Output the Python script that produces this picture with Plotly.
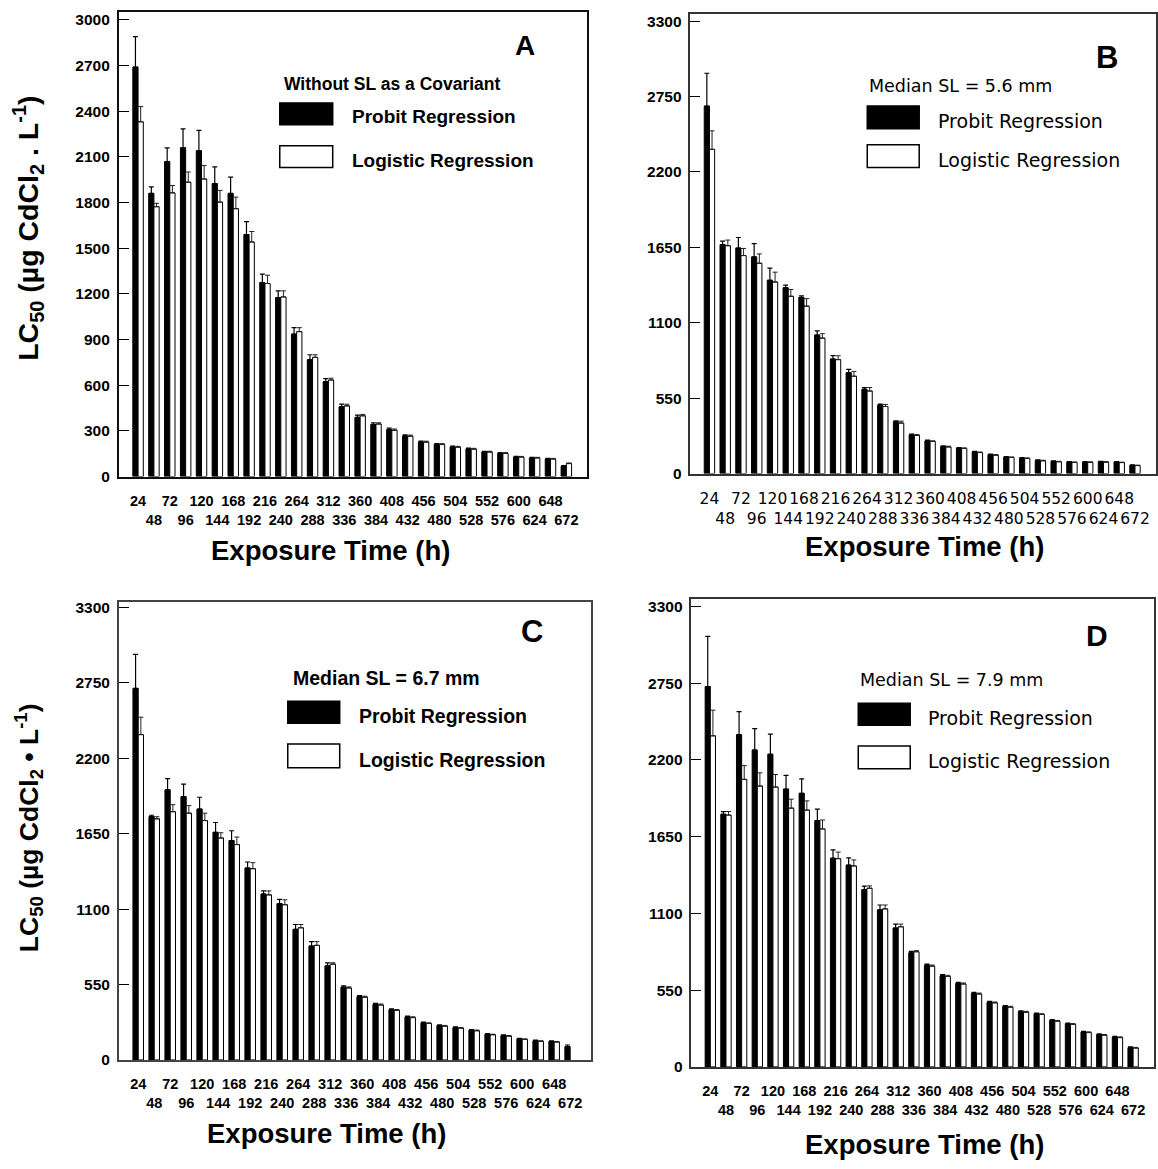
import plotly.graph_objects as go

W, H = 1158, 1169

# Exposure times (h)
hours = list(range(24, 673, 24))
# alternate labels between two rows
hour_labels = [str(h) if i % 2 == 0 else "<br>" + str(h) for i, h in enumerate(hours)]

# ---- Panel A: without SL as a covariant ----
a_probit = [2690, 1860, 2070, 2160, 2140, 1925, 1860, 1590, 1275, 1175, 935, 768, 623, 458,
            388, 341, 308, 265, 226, 210, 193, 182, 161, 152, 128, 122, 115, 67]
a_probit_err = [200, 43, 90, 125, 135, 110, 108, 85, 55, 45, 43, 32, 20, 17,
                15, 12, 10, 8, 7, 6, 6, 5, 5, 5, 4, 4, 4, 4]
a_logit = [2331, 1773, 1864, 1934, 1955, 1803, 1760, 1541, 1268, 1180, 952, 783, 634, 464,
           399, 345, 304, 265, 226, 210, 193, 180, 161, 152, 128, 122, 115, 85]
a_logit_err = [100, 22, 48, 67, 89, 77, 76, 69, 55, 40, 26, 17, 12, 11,
               9, 8, 8, 7, 6, 6, 5, 5, 5, 5, 4, 4, 4, 4]

# ---- Panel B: median SL = 5.6 mm ----
b_probit = [2680, 1670, 1645, 1580, 1410, 1355, 1285, 1010, 835, 735, 614, 498, 378, 282,
            238, 197, 186, 157, 137, 120, 113, 96, 89, 84, 84, 86, 84, 60]
b_probit_err = [240, 25, 77, 97, 89, 20, 12, 30, 25, 25, 12, 8, 6, 5,
                5, 5, 4, 4, 4, 4, 4, 4, 3, 3, 3, 3, 3, 3]
b_logit = [2365, 1662, 1590, 1534, 1397, 1293, 1221, 988, 831, 710, 602, 489, 368, 278,
           234, 194, 183, 153, 134, 117, 110, 93, 86, 81, 82, 83, 80, 58]
b_logit_err = [135, 41, 52, 68, 72, 50, 55, 32, 28, 35, 25, 15, 14, 6,
               5, 5, 4, 4, 4, 4, 4, 4, 3, 3, 3, 3, 3, 3]

# ---- Panel C: median SL = 6.7 mm ----
c_probit = [2710, 1775, 1970, 1920, 1830, 1660, 1600, 1400, 1210, 1140, 952, 831, 686, 530,
            462, 405, 366, 313, 270, 251, 236, 217, 188, 178, 154, 140, 135, 97]
c_probit_err = [248, 10, 82, 92, 86, 72, 72, 44, 24, 31, 36, 32, 22, 10,
                8, 8, 7, 7, 6, 6, 5, 5, 5, 5, 4, 4, 4, 12]
c_logit = [2373, 1759, 1811, 1800, 1746, 1619, 1571, 1395, 1204, 1132, 964, 836, 699, 525,
           458, 401, 362, 309, 266, 247, 232, 213, 184, 174, 150, 136, 131, None]
c_logit_err = [127, 15, 51, 55, 54, 38, 55, 44, 29, 36, 24, 27, 10, 8,
               7, 7, 6, 6, 5, 5, 5, 5, 4, 4, 4, 4, 4, 0]

# ---- Panel D: median SL = 7.9 mm ----
d_probit = [2725, 1810, 2380, 2270, 2240, 1990, 1960, 1764, 1495, 1445, 1270, 1125, 995, 817,
            727, 652, 598, 527, 463, 432, 396, 380, 332, 309, 250, 231, 214, 138]
d_probit_err = [360, 19, 165, 154, 144, 99, 104, 83, 60, 52, 25, 35, 28, 10,
                9, 9, 8, 8, 7, 7, 6, 6, 6, 5, 5, 5, 5, 5]
d_logit = [2372, 1804, 2060, 2012, 2005, 1854, 1840, 1705, 1492, 1440, 1280, 1132, 1004, 825,
           722, 648, 594, 522, 459, 428, 392, 376, 328, 305, 246, 227, 210, 135]
d_logit_err = [184, 26, 99, 95, 90, 64, 66, 64, 47, 43, 17, 28, 19, 8,
               8, 8, 7, 7, 6, 6, 6, 5, 5, 5, 5, 5, 5, 5]

a_ticks = list(range(0, 3001, 300))
bcd_ticks = list(range(0, 3301, 550))


def px(x):
    return x / W


def py(y):
    return 1 - y / H


panels = [
    # probit / logistic series, plot box (l, t, r, b) in px, y range top, y ticks
    dict(p=a_probit, pe=a_probit_err, l=a_logit, le=a_logit_err,
         box=(119, 9, 588, 478), ytop=3053, yt=a_ticks, line=2.0, lc="#111"),
    dict(p=b_probit, pe=b_probit_err, l=b_logit, le=b_logit_err,
         box=(691, 11, 1157, 475), ytop=3353, yt=bcd_ticks, line=1.5, lc="#333"),
    dict(p=c_probit, pe=c_probit_err, l=c_logit, le=c_logit_err,
         box=(119, 605, 592, 1067), ytop=3338, yt=bcd_ticks, line=1.6, lc="#444"),
    dict(p=d_probit, pe=d_probit_err, l=d_logit, le=d_logit_err,
         box=(692, 602, 1155, 1074), ytop=3350, yt=bcd_ticks, line=1.5, lc="#333"),
]

fig = go.Figure()
layout = dict(
    width=W, height=H,
    margin=dict(l=0, r=0, t=0, b=0),
    paper_bgcolor="white", plot_bgcolor="white",
    barmode="group", bargap=0.34, bargroupgap=0.0,
    showlegend=False,
    font=dict(family="Liberation Sans, Arial, sans-serif", color="black"),
)

tick_bold = dict(family="Liberation Sans, Arial, sans-serif", size=14.5, color="black", weight="bold")
tick_wide = dict(family="DejaVu Sans, sans-serif", size=15.5, color="black")

for i, pn in enumerate(panels, start=1):
    sfx = "" if i == 1 else str(i)
    xa, ya = "x" + sfx, "y" + sfx
    zeros = [0] * len(hours)
    fig.add_trace(go.Bar(
        x=hours, y=pn["p"], xaxis=xa, yaxis=ya, name="Probit Regression",
        marker=dict(color="black", line=dict(color="black", width=1)),
        error_y=dict(type="data", symmetric=False, array=pn["pe"], arrayminus=zeros,
                     color="black", thickness=1.2, width=2.5),
    ))
    fig.add_trace(go.Bar(
        x=hours, y=pn["l"], xaxis=xa, yaxis=ya, name="Logistic Regression",
        marker=dict(color="white", line=dict(color="black", width=1)),
        error_y=dict(type="data", symmetric=False, array=pn["le"], arrayminus=zeros,
                     color="#222", thickness=1, width=2.5),
    ))
    l, t, r, b = pn["box"]
    xfont = tick_wide if i == 2 else tick_bold
    layout["xaxis" + sfx] = dict(
        domain=[px(l), px(r)], anchor=ya, range=[-5, 704],
        tickvals=hours, ticktext=hour_labels, tickangle=0, ticks="",
        showline=True, mirror=True, linecolor=pn["lc"], linewidth=pn["line"],
        showgrid=False, zeroline=False, tickfont=xfont, ticklabelstandoff=10,
    )
    yfont = dict(family="Liberation Sans, Arial, sans-serif", size=15.5, color="black",
                 weight="bold")
    layout["yaxis" + sfx] = dict(
        domain=[py(b), py(t)], anchor=xa, range=[0, pn["ytop"]],
        tickvals=pn["yt"], ticks="inside", ticklen=10, tickwidth=1.2, tickcolor="black",
        showline=True, mirror=True, linecolor=pn["lc"], linewidth=pn["line"],
        showgrid=False, zeroline=False, tickfont=yfont, ticklabelstandoff=4,
    )

fig.update_layout(**layout)

ann = []
shapes = []


def text(x, y, s, size, bold=False, family="Liberation Sans, Arial, sans-serif",
         xanchor="left", angle=0):
    ann.append(dict(
        x=px(x), y=py(y), xref="paper", yref="paper", text=s, showarrow=False,
        xanchor=xanchor, yanchor="middle", textangle=angle,
        font=dict(family=family, size=size, color="black",
                  weight="bold" if bold else "normal"),
    ))


def swatch(x0, y0, x1, y1, fill):
    shapes.append(dict(type="rect", xref="paper", yref="paper",
                       x0=px(x0), x1=px(x1), y0=py(y1), y1=py(y0),
                       fillcolor=fill, line=dict(color="black", width=1.5)))


wide = "DejaVu Sans, sans-serif"

# Panel A legend and label
text(282, 82, "Without SL as a Covariant", 17.5, bold=True)
swatch(280, 101, 333, 123, "black")
swatch(280, 144, 333, 166, "white")
text(350, 115, "Probit Regression", 19, bold=True)
text(350, 159, "Logistic Regression", 19, bold=True)
text(525, 43, "A", 28, bold=True, xanchor="center")

# Panel B
text(868, 84, "Median SL = 5.6 mm", 17.5, family=wide)
swatch(868, 104, 920, 127, "black")
swatch(868, 143, 920, 166, "white")
text(937, 119, "Probit Regression", 19, family=wide)
text(937, 158, "Logistic Regression", 19, family=wide)
text(1108, 55, "B", 31, bold=True, xanchor="center")

# Panel C
text(291, 681, "Median SL = 6.7 mm", 19.5, bold=True)
swatch(288, 705, 340, 727, "black")
swatch(288, 748, 340, 772, "white")
text(357, 720, "Probit Regression", 19.5, bold=True)
text(357, 764, "Logistic Regression", 19.5, bold=True)
text(532, 634, "C", 31, bold=True, xanchor="center")

# Panel D
text(859, 683, "Median SL = 7.9 mm", 17.5, family=wide)
swatch(859, 707, 911, 729, "black")
swatch(859, 750, 911, 773, "white")
text(927, 722, "Probit Regression", 19, family=wide)
text(927, 765, "Logistic Regression", 19, family=wide)
text(1098, 639, "D", 30, bold=True, xanchor="center")

# Axis titles
xt = "Exposure Time (h)"
text(331, 553, xt, 27.5, bold=True, xanchor="center")
text(925, 549, xt, 27.5, bold=True, xanchor="center")
text(327, 1141, xt, 27.5, bold=True, xanchor="center")
text(925, 1152, xt, 27.5, bold=True, xanchor="center")
text(28, 227, "LC<sub>50</sub> (µg CdCl<sub>2</sub> . L<sup>-1</sup>)", 28.5, bold=True,
     xanchor="center", angle=-90)
text(29, 832, "LC<sub>50</sub> (µg CdCl<sub>2</sub> • L<sup>-1</sup>)", 26.5, bold=True,
     xanchor="center", angle=-90)

fig.update_layout(annotations=ann, shapes=shapes)
fig.write_html("out.html")
